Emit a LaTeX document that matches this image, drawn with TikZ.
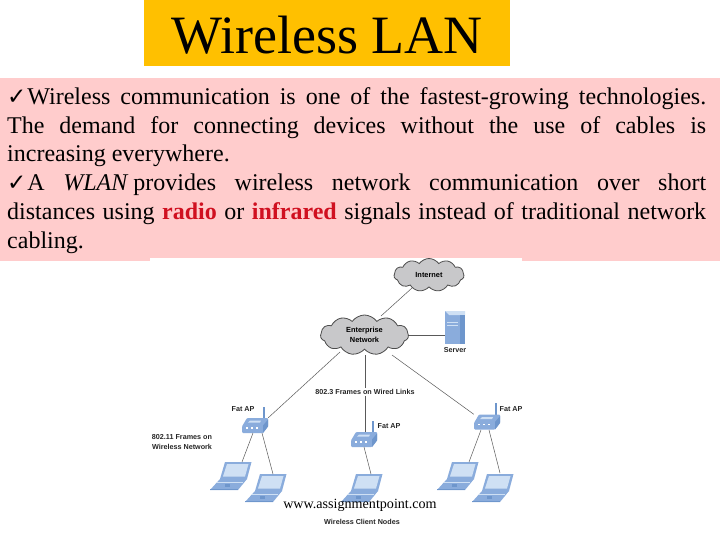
\documentclass[tikz,border=0pt]{standalone}
\usepackage{fontspec}
\setmainfont{Liberation Serif}
\setsansfont{Liberation Sans}
\newfontfamily\symfont{DejaVu Sans}
\usetikzlibrary{shapes.symbols}
\definecolor{pinkbg}{HTML}{FFCCCC}
\definecolor{titlebg}{HTML}{FFC000}
\definecolor{devblue}{HTML}{8AACDC}
\definecolor{devdark}{HTML}{6E96CC}
\definecolor{devlight}{HTML}{CFE0F4}
\definecolor{cloudgray}{HTML}{C8C8CA}
\definecolor{emphred}{HTML}{D01020}
\tikzset{
 bodyline/.style={anchor=base west,inner sep=0pt,font=\fontsize{24}{27}\selectfont,text=black},
 netcloud/.style={cloud,cloud puffs=11,cloud puff arc=110,aspect=2.3,draw=black!70,line width=0.8pt,fill=cloudgray,inner sep=0pt,align=center,font=\sffamily\bfseries\fontsize{7.4}{9.5}\selectfont},
 lab/.style={inner sep=0pt,align=center,font=\sffamily\bfseries\fontsize{7.2}{10}\selectfont,text=black!85},
 wire/.style={draw=black!65,line width=0.5pt},
}
\newcommand{\chk}{{\symfont\fontsize{23}{24}\selectfont ✓}}
% router: x,y is the centre of the body
\newcommand{\routerdev}[3]{%
 \node[inner sep=0pt,minimum width=26pt,minimum height=15pt] (#1) at (#2,#3) {};
 \begin{scope}[shift={(#2,#3)}]
  \fill[devdark] (7.5,-5) rectangle (10,-19);
  \fill[devblue,rounded corners=1pt] (-13,1) -- (-8,-7.5) -- (13,-7.5) -- (13,1) -- (8,7.5) -- (-13,7.5) -- cycle;
  \fill[devdark] (8,0) -- (13,-6) -- (13,1) -- (8,7.5) -- cycle;
  \fill[devlight] (-7,-3) -- (-5,-5) -- (6,-5) -- (5,-3) -- cycle;
  \fill[white] (-9,1.5) rectangle (-7.5,3);
  \fill[white] (-4,1.5) rectangle (-2.5,3);
  \fill[white] (1,1.5) rectangle (2.5,3);
 \end{scope}}
% laptop: x,y is the top-left of its bounding box
\newcommand{\laptopdev}[3]{%
 \node[inner sep=0pt,minimum width=41pt,minimum height=28pt,anchor=north west] (#1) at (#2,#3) {};
 \begin{scope}[shift={(#2,#3)}]
  \fill[devblue] (15,0) -- (41.5,0) -- (37,17) -- (10,17) -- cycle;
  \fill[devlight] (17,2) -- (38.5,2) -- (35,14.5) -- (13,14.5) -- cycle;
  \fill[devblue] (10,17) -- (37,17) -- (28,28) -- (0,28) -- cycle;
  \draw[devlight,line width=0.5pt] (7,20.5) -- (33,20.5);
  \fill[devdark] (15,22) rectangle (20,25);
  \fill[devdark] (0,27) rectangle (28,28);
 \end{scope}}
\begin{document}
\begin{tikzpicture}[x=1pt,y=-1pt]
\useasboundingbox (0,0) rectangle (720,540);
\fill[white] (0,0) rectangle (720,540);
\fill[titlebg] (144,0) rectangle (510,66);
\node[inner sep=0pt,anchor=base,font=\fontsize{54}{60}\selectfont] (title) at (327,54) {Wireless LAN};
\fill[pinkbg] (0,78) rectangle (720,261);
\fill[white] (150,258) rectangle (522,261);
\node[bodyline] (l1) at (7,105) {\makebox[699pt][s]{\chk\kern1pt Wireless communication is one of the fastest-growing technologies.}};
\node[bodyline] (l2) at (7,134) {\makebox[699pt][s]{The demand for connecting devices without the use of cables is}};
\node[bodyline] (l3) at (7,162) {increasing everywhere.};
\node[bodyline] (l4) at (7,191) {\makebox[699pt][s]{\chk\kern1pt A \textit{WLAN}\kern5pt provides wireless network communication over short}};
\node[bodyline] (l5) at (7,220) {\makebox[699pt][s]{distances using \textcolor{emphred}{\textbf{radio}} or \textcolor{emphred}{\textbf{infrared}} signals instead of traditional network}};
\node[bodyline] (l6) at (7,248) {cabling.};
% network
\node[netcloud,minimum width=70pt,minimum height=33pt] (inet) at (429,275) {Internet};
\node[netcloud,minimum width=88pt,minimum height=40pt] (ent) at (364.5,335) {Enterprise\\Network};
\node[inner sep=0pt,minimum width=20pt,minimum height=33pt] (srv) at (455,327.5) {};
\fill[devblue] (srv.south west) rectangle (srv.north east);
\fill[devlight] (445,311) -- (449,315) -- (465,315) -- (465,311) -- cycle;
\fill[devdark] (460,315) -- (465,315) -- (465,344) -- (460,344) -- cycle;
\draw[devlight,line width=0.4pt] (447,322) -- (458,322) (447,325) -- (458,325);
\routerdev{apl}{255}{425.5}
\routerdev{apm}{364}{439.5}
\routerdev{apr}{487}{422}
\laptopdev{la}{210}{462}
\laptopdev{lb}{245}{474}
\laptopdev{lc}{341}{474}
\laptopdev{ld}{437}{462}
\laptopdev{le}{472}{474}
\coordinate (entl) at (340,352);
\coordinate (entm) at (365,355);
\coordinate (entr) at (392,355);
\coordinate (inetfoot) at (412,288);
\coordinate (enttop) at (381,316);
\draw[wire] (inetfoot) -- (enttop);
\draw[wire] (ent.east) -- (ent.east -| srv.west);
\draw[wire] (entl) -- (apl.north east);
\draw[wire] (entm) -- (entm |- apm.north);
\draw[wire] (entr) -- (apr.north west);
\coordinate (aplfoota) at (253,433);
\coordinate (aplfootb) at (262,433);
\coordinate (apmfoot) at (364,447);
\coordinate (aprfoota) at (481,430);
\coordinate (aprfootb) at (489,430);
\coordinate (latop) at (242,462);
\coordinate (lbtop) at (273,474);
\coordinate (lctop) at (371,474);
\coordinate (ldtop) at (469,462);
\coordinate (letop) at (500,473);
\draw[wire] (aplfoota) -- (latop);
\draw[wire] (aplfootb) -- (lbtop);
\draw[wire] (apmfoot) -- (lctop);
\draw[wire] (aprfoota) -- (ldtop);
\draw[wire] (aprfootb) -- (letop);
% labels
\node[lab,fill=white,inner xsep=1pt,inner ysep=1pt] (wired) at (365,392) {802.3 Frames on Wired Links};
\node[lab] (srvl) at (455,350) {Server};
\node[lab] (fa) at (243,409) {Fat AP};
\node[lab] (fb) at (389,426) {Fat AP};
\node[lab] (fc) at (511,409) {Fat AP};
\node[lab] (wf) at (182,442) {802.11 Frames on\\Wireless Network};
\node[lab] (wc) at (362,522) {Wireless Client Nodes};
\node[inner sep=0pt,font=\fontsize{14.1}{15}\selectfont] (wm) at (360,505) {www.assignmentpoint.com};
\end{tikzpicture}
\end{document}
